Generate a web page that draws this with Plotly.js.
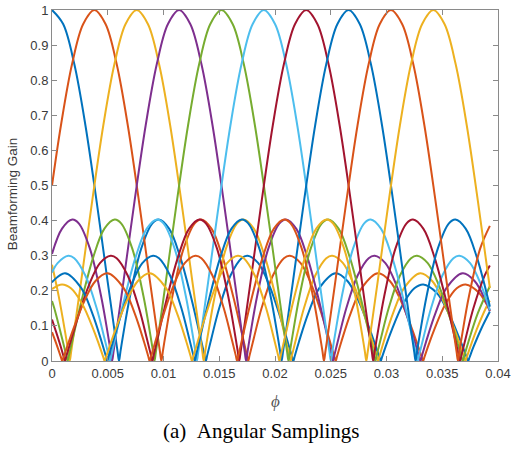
<!DOCTYPE html>
<html>
<head>
<meta charset="utf-8">
<script src="https://cdn.plot.ly/plotly-3.0.1.min.js"></script>
<style>
  html, body { margin: 0; padding: 0; background: #ffffff; }
  #chart { width: 511px; height: 451px; }
</style>
</head>
<body>
<div id="chart"></div>
<script>
// Beam 1 (peak at phi = 0)
const phi1 = [0, 0.001, 0.002, 0.003, 0.004, 0.005, 0.0056, 0.00589, 0.00601, 0.00613, 0.0064, 0.007, 0.008, 0.009, 0.00958, 0.0105, 0.0115, 0.0125, 0.0133, 0.01368, 0.0138, 0.01392, 0.0143, 0.015, 0.016, 0.017, 0.01754, 0.0185, 0.0195, 0.0205, 0.02115, 0.02152, 0.02164, 0.02176, 0.02215, 0.023, 0.024, 0.02543, 0.0265, 0.0275, 0.0285, 0.02936, 0.02948, 0.0296, 0.03, 0.0305, 0.0315, 0.0325, 0.0333, 0.0345, 0.0355, 0.0365, 0.0372, 0.03732, 0.03744, 0.0378, 0.0385, 0.03927];
const gain1 = [1, 0.96, 0.846, 0.671, 0.455, 0.224, 0.088, 0.025, 0, 0.025, 0.078, 0.185, 0.32, 0.392, 0.403, 0.377, 0.296, 0.178, 0.069, 0.016, 0, 0.016, 0.065, 0.151, 0.243, 0.293, 0.3, 0.279, 0.215, 0.122, 0.053, 0.013, 0, 0.013, 0.055, 0.137, 0.209, 0.25, 0.228, 0.171, 0.09, 0.011, 0, 0.011, 0.048, 0.091, 0.163, 0.207, 0.218, 0.194, 0.141, 0.068, 0.01, 0, 0.01, 0.04, 0.092, 0.141];

// Beam 2
const phi2 = [0, 0.0008, 0.0018, 0.0028, 0.0038, 0.0048, 0.0058, 0.0068, 0.0078, 0.0088, 0.0094, 0.00969, 0.00981, 0.00993, 0.0102, 0.0108, 0.0118, 0.0128, 0.01338, 0.0143, 0.0153, 0.0163, 0.0171, 0.01748, 0.0176, 0.01772, 0.0181, 0.0188, 0.0198, 0.0208, 0.02134, 0.0223, 0.0233, 0.0243, 0.02495, 0.02532, 0.02544, 0.02556, 0.02595, 0.0268, 0.0278, 0.02923, 0.0303, 0.0313, 0.0323, 0.03316, 0.03328, 0.0334, 0.0338, 0.0343, 0.0353, 0.0363, 0.0371, 0.0383, 0.03927];
const gain2 = [0.5, 0.671, 0.846, 0.96, 1, 0.96, 0.846, 0.671, 0.455, 0.224, 0.088, 0.025, 0, 0.025, 0.078, 0.185, 0.32, 0.392, 0.403, 0.377, 0.296, 0.178, 0.069, 0.016, 0, 0.016, 0.065, 0.151, 0.243, 0.293, 0.3, 0.279, 0.215, 0.122, 0.053, 0.013, 0, 0.013, 0.055, 0.137, 0.209, 0.25, 0.228, 0.171, 0.09, 0.011, 0, 0.011, 0.048, 0.091, 0.163, 0.207, 0.218, 0.194, 0.143];

// Beam 3
const phi3 = [0, 0.0006, 0.0012, 0.00147, 0.00159, 0.00171, 0.002, 0.0026, 0.0036, 0.0046, 0.0056, 0.0066, 0.0076, 0.0086, 0.0096, 0.0106, 0.0116, 0.0126, 0.0132, 0.01349, 0.01361, 0.01373, 0.014, 0.0146, 0.0156, 0.0166, 0.01718, 0.0181, 0.0191, 0.0201, 0.0209, 0.02128, 0.0214, 0.02152, 0.0219, 0.0226, 0.0236, 0.0246, 0.02514, 0.0261, 0.0271, 0.0281, 0.02875, 0.02912, 0.02924, 0.02936, 0.02975, 0.0306, 0.0316, 0.03303, 0.0341, 0.0351, 0.0361, 0.03696, 0.03708, 0.0372, 0.0376, 0.0381, 0.0391, 0.03927];
const gain3 = [0.274, 0.185, 0.078, 0.025, 0, 0.025, 0.088, 0.224, 0.455, 0.671, 0.846, 0.96, 1, 0.96, 0.846, 0.671, 0.455, 0.224, 0.088, 0.025, 0, 0.025, 0.078, 0.185, 0.32, 0.392, 0.403, 0.377, 0.296, 0.178, 0.069, 0.016, 0, 0.016, 0.065, 0.151, 0.243, 0.293, 0.3, 0.279, 0.215, 0.122, 0.053, 0.013, 0, 0.013, 0.055, 0.137, 0.209, 0.25, 0.228, 0.171, 0.09, 0.011, 0, 0.011, 0.048, 0.091, 0.163, 0.172];

// Beam 4
const phi4 = [0, 0.0009, 0.00182, 0.0024, 0.0034, 0.0044, 0.005, 0.00527, 0.00539, 0.00551, 0.0058, 0.0064, 0.0074, 0.0084, 0.0094, 0.0104, 0.0114, 0.0124, 0.0134, 0.0144, 0.0154, 0.0164, 0.017, 0.01729, 0.01741, 0.01753, 0.0178, 0.0184, 0.0194, 0.0204, 0.02098, 0.0219, 0.0229, 0.0239, 0.0247, 0.02508, 0.0252, 0.02532, 0.0257, 0.0264, 0.0274, 0.0284, 0.02894, 0.0299, 0.0309, 0.0319, 0.03255, 0.03292, 0.03304, 0.03316, 0.03355, 0.0344, 0.0354, 0.03683, 0.0379, 0.0389, 0.03927];
const gain4 = [0.305, 0.377, 0.403, 0.392, 0.32, 0.185, 0.078, 0.025, 0, 0.025, 0.088, 0.224, 0.455, 0.671, 0.846, 0.96, 1, 0.96, 0.846, 0.671, 0.455, 0.224, 0.088, 0.025, 0, 0.025, 0.078, 0.185, 0.32, 0.392, 0.403, 0.377, 0.296, 0.178, 0.069, 0.016, 0, 0.016, 0.065, 0.151, 0.243, 0.293, 0.3, 0.279, 0.215, 0.122, 0.053, 0.013, 0, 0.013, 0.055, 0.137, 0.209, 0.25, 0.228, 0.171, 0.143];

// Beam 5
const phi5 = [0, 0.0002, 0.0009, 0.00128, 0.0014, 0.00152, 0.0019, 0.0027, 0.0037, 0.0047, 0.00562, 0.0062, 0.0072, 0.0082, 0.0088, 0.00907, 0.00919, 0.00931, 0.0096, 0.0102, 0.0112, 0.0122, 0.0132, 0.0142, 0.0152, 0.0162, 0.0172, 0.0182, 0.0192, 0.0202, 0.0208, 0.02109, 0.02121, 0.02133, 0.0216, 0.0222, 0.0232, 0.0242, 0.02478, 0.0257, 0.0267, 0.0277, 0.0285, 0.02888, 0.029, 0.02912, 0.0295, 0.0302, 0.0312, 0.0322, 0.03274, 0.0337, 0.0347, 0.0357, 0.03635, 0.03672, 0.03684, 0.03696, 0.03735, 0.0382, 0.03927];
const gain5 = [0.171, 0.151, 0.065, 0.016, 0, 0.016, 0.069, 0.178, 0.296, 0.377, 0.403, 0.392, 0.32, 0.185, 0.078, 0.025, 0, 0.025, 0.088, 0.224, 0.455, 0.671, 0.846, 0.96, 1, 0.96, 0.846, 0.671, 0.455, 0.224, 0.088, 0.025, 0, 0.025, 0.078, 0.185, 0.32, 0.392, 0.403, 0.377, 0.296, 0.178, 0.069, 0.016, 0, 0.016, 0.065, 0.151, 0.243, 0.293, 0.3, 0.279, 0.215, 0.122, 0.053, 0.013, 0, 0.013, 0.055, 0.137, 0.213];

// Beam 6
const phi6 = [0, 0.0005, 0.00146, 0.002, 0.003, 0.004, 0.0047, 0.00508, 0.0052, 0.00532, 0.0057, 0.0065, 0.0075, 0.0085, 0.00942, 0.01, 0.011, 0.012, 0.0126, 0.01287, 0.01299, 0.01311, 0.0134, 0.014, 0.015, 0.016, 0.017, 0.018, 0.019, 0.02, 0.021, 0.022, 0.023, 0.024, 0.0246, 0.02489, 0.02501, 0.02513, 0.0254, 0.026, 0.027, 0.028, 0.02858, 0.0295, 0.0305, 0.0315, 0.0323, 0.03268, 0.0328, 0.03292, 0.0333, 0.034, 0.035, 0.036, 0.03654, 0.0375, 0.0385, 0.03927];
const gain6 = [0.252, 0.279, 0.3, 0.293, 0.243, 0.151, 0.065, 0.016, 0, 0.016, 0.069, 0.178, 0.296, 0.377, 0.403, 0.392, 0.32, 0.185, 0.078, 0.025, 0, 0.025, 0.088, 0.224, 0.455, 0.671, 0.846, 0.96, 1, 0.96, 0.846, 0.671, 0.455, 0.224, 0.088, 0.025, 0, 0.025, 0.078, 0.185, 0.32, 0.392, 0.403, 0.377, 0.296, 0.178, 0.069, 0.016, 0, 0.016, 0.065, 0.151, 0.243, 0.293, 0.3, 0.279, 0.215, 0.145];

// Beam 7
const phi7 = [0, 0.00065, 0.00104, 0.00116, 0.00128, 0.00165, 0.0023, 0.0033, 0.0043, 0.00526, 0.0058, 0.0068, 0.0078, 0.0085, 0.00888, 0.009, 0.00912, 0.0095, 0.0103, 0.0113, 0.0123, 0.01322, 0.0138, 0.0148, 0.0158, 0.0164, 0.01667, 0.01679, 0.01691, 0.0172, 0.0178, 0.0188, 0.0198, 0.0208, 0.0218, 0.0228, 0.0238, 0.0248, 0.0258, 0.0268, 0.0278, 0.0284, 0.02869, 0.02881, 0.02893, 0.0292, 0.0298, 0.0308, 0.0318, 0.03238, 0.0333, 0.0343, 0.0353, 0.0361, 0.03648, 0.0366, 0.03672, 0.0371, 0.0378, 0.0388, 0.03927];
const gain7 = [0.118, 0.055, 0.013, 0, 0.013, 0.053, 0.122, 0.215, 0.279, 0.3, 0.293, 0.243, 0.151, 0.065, 0.016, 0, 0.016, 0.069, 0.178, 0.296, 0.377, 0.403, 0.392, 0.32, 0.185, 0.078, 0.025, 0, 0.025, 0.088, 0.224, 0.455, 0.671, 0.846, 0.96, 1, 0.96, 0.846, 0.671, 0.455, 0.224, 0.088, 0.025, 0, 0.025, 0.078, 0.185, 0.32, 0.392, 0.403, 0.377, 0.296, 0.178, 0.069, 0.016, 0, 0.016, 0.065, 0.151, 0.243, 0.272];

// Beam 8
const phi8 = [0, 0.0001, 0.00117, 0.0026, 0.0036, 0.00445, 0.00484, 0.00496, 0.00508, 0.00545, 0.0061, 0.0071, 0.0081, 0.00906, 0.0096, 0.0106, 0.0116, 0.0123, 0.01268, 0.0128, 0.01292, 0.0133, 0.0141, 0.0151, 0.0161, 0.01702, 0.0176, 0.0186, 0.0196, 0.0202, 0.02047, 0.02059, 0.02071, 0.021, 0.0216, 0.0226, 0.0236, 0.0246, 0.0256, 0.0266, 0.0276, 0.0286, 0.0296, 0.0306, 0.0316, 0.0322, 0.03249, 0.03261, 0.03273, 0.033, 0.0336, 0.0346, 0.0356, 0.03618, 0.0371, 0.0381, 0.0391, 0.03927];
const gain8 = [0.224, 0.228, 0.25, 0.209, 0.137, 0.055, 0.013, 0, 0.013, 0.053, 0.122, 0.215, 0.279, 0.3, 0.293, 0.243, 0.151, 0.065, 0.016, 0, 0.016, 0.069, 0.178, 0.296, 0.377, 0.403, 0.392, 0.32, 0.185, 0.078, 0.025, 0, 0.025, 0.088, 0.224, 0.455, 0.671, 0.846, 0.96, 1, 0.96, 0.846, 0.671, 0.455, 0.224, 0.088, 0.025, 0, 0.025, 0.078, 0.185, 0.32, 0.392, 0.403, 0.377, 0.296, 0.178, 0.155];

// Beam 9
const phi9 = [0, 0.0004, 0.0008, 0.00092, 0.00104, 0.0019, 0.0029, 0.0039, 0.00497, 0.0064, 0.0074, 0.00825, 0.00864, 0.00876, 0.00888, 0.00925, 0.0099, 0.0109, 0.0119, 0.01286, 0.0134, 0.0144, 0.0154, 0.0161, 0.01648, 0.0166, 0.01672, 0.0171, 0.0179, 0.0189, 0.0199, 0.02082, 0.0214, 0.0224, 0.0234, 0.024, 0.02427, 0.02439, 0.02451, 0.0248, 0.0254, 0.0264, 0.0274, 0.0284, 0.0294, 0.0304, 0.0314, 0.0324, 0.0334, 0.0344, 0.0354, 0.036, 0.03629, 0.03641, 0.03653, 0.0368, 0.0374, 0.0384, 0.03927];
const gain9 = [0.082, 0.048, 0.011, 0, 0.011, 0.09, 0.171, 0.228, 0.25, 0.209, 0.137, 0.055, 0.013, 0, 0.013, 0.053, 0.122, 0.215, 0.279, 0.3, 0.293, 0.243, 0.151, 0.065, 0.016, 0, 0.016, 0.069, 0.178, 0.296, 0.377, 0.403, 0.392, 0.32, 0.185, 0.078, 0.025, 0, 0.025, 0.088, 0.224, 0.455, 0.671, 0.846, 0.96, 1, 0.96, 0.846, 0.671, 0.455, 0.224, 0.088, 0.025, 0, 0.025, 0.078, 0.185, 0.32, 0.385];

// Beam 10
const phi10 = [0, 0.0009, 0.0017, 0.0027, 0.0037, 0.0042, 0.0046, 0.00472, 0.00484, 0.0057, 0.0067, 0.0077, 0.00877, 0.0102, 0.0112, 0.01205, 0.01244, 0.01256, 0.01268, 0.01305, 0.0137, 0.0147, 0.0157, 0.01666, 0.0172, 0.0182, 0.0192, 0.0199, 0.02028, 0.0204, 0.02052, 0.0209, 0.0217, 0.0227, 0.0237, 0.02462, 0.0252, 0.0262, 0.0272, 0.0278, 0.02807, 0.02819, 0.02831, 0.0286, 0.0292, 0.0302, 0.0312, 0.0322, 0.0332, 0.0342, 0.0352, 0.0362, 0.0372, 0.0382, 0.03927];
const gain10 = [0.205, 0.218, 0.207, 0.163, 0.091, 0.048, 0.011, 0, 0.011, 0.09, 0.171, 0.228, 0.25, 0.209, 0.137, 0.055, 0.013, 0, 0.013, 0.053, 0.122, 0.215, 0.279, 0.3, 0.293, 0.243, 0.151, 0.065, 0.016, 0, 0.016, 0.069, 0.178, 0.296, 0.377, 0.403, 0.392, 0.32, 0.185, 0.078, 0.025, 0, 0.025, 0.088, 0.224, 0.455, 0.671, 0.846, 0.96, 1, 0.96, 0.846, 0.671, 0.455, 0.208];

const xTickVals = [0, 0.005, 0.01, 0.015, 0.02, 0.025, 0.03, 0.035, 0.04];
const xTickText = ['0', '0.005', '0.01', '0.015', '0.02', '0.025', '0.03', '0.035', '0.04'];
const yTickVals = [0, 0.1, 0.2, 0.3, 0.4, 0.5, 0.6, 0.7, 0.8, 0.9, 1];
const yTickText = ['0', '0.1', '0.2', '0.3', '0.4', '0.5', '0.6', '0.7', '0.8', '0.9', '1'];

const phis = [phi1, phi2, phi3, phi4, phi5, phi6, phi7, phi8, phi9, phi10];
const gains = [gain1, gain2, gain3, gain4, gain5, gain6, gain7, gain8, gain9, gain10];
const colors = ['#0072BD', '#D95319', '#EDB120', '#7E2F8E', '#77AC30', '#4DBEEE', '#A2142F', '#0072BD', '#D95319', '#EDB120'];

const traces = phis.map((x, i) => ({
  type: 'scatter',
  mode: 'lines',
  x: x,
  y: gains[i],
  line: { color: colors[i], width: 2, shape: 'spline', smoothing: 1 },
  hoverinfo: 'skip',
  showlegend: false
}));

const axisCommon = {
  showline: true,
  linecolor: '#8a8a8a',
  linewidth: 1,
  mirror: 'ticks',
  ticks: 'inside',
  ticklen: 5,
  tickwidth: 1,
  tickcolor: '#8a8a8a',
  showgrid: false,
  zeroline: false,
  tickfont: { family: 'Liberation Sans, Arial, sans-serif', size: 13, color: '#3a3a3a' }
};

const layout = {
  width: 511,
  height: 451,
  margin: { l: 52, r: 13, t: 10, b: 90 },
  paper_bgcolor: '#ffffff',
  plot_bgcolor: '#ffffff',
  showlegend: false,
  xaxis: Object.assign({}, axisCommon, {
    range: [0, 0.04],
    tickmode: 'array',
    tickvals: xTickVals,
    ticktext: xTickText
  }),
  yaxis: Object.assign({}, axisCommon, {
    range: [0, 1],
    tickmode: 'array',
    tickvals: yTickVals,
    ticktext: yTickText
  }),
  annotations: [
    {
      text: 'Beamforming Gain',
      xref: 'paper', yref: 'paper',
      x: -0.088, y: 0.477,
      xanchor: 'center', yanchor: 'middle',
      textangle: -90,
      showarrow: false,
      font: { family: 'Liberation Sans, Arial, sans-serif', size: 13.5, color: '#3a3a3a' }
    },
    {
      text: '<i>ϕ</i>',
      xref: 'paper', yref: 'paper',
      x: 0.5, y: -0.115,
      xanchor: 'center', yanchor: 'middle',
      showarrow: false,
      font: { family: 'Liberation Serif, Times New Roman, serif', size: 17, color: '#555555' }
    },
    {
      text: '(a)&nbsp;&nbsp;Angular Samplings',
      xref: 'paper', yref: 'paper',
      x: 0.469, y: -0.2,
      xanchor: 'center', yanchor: 'middle',
      showarrow: false,
      font: { family: 'Liberation Serif, Times New Roman, serif', size: 21, color: '#000000' }
    }
  ]
};

Plotly.newPlot('chart', traces, layout, { staticPlot: true, displayModeBar: false });
</script>
</body>
</html>
